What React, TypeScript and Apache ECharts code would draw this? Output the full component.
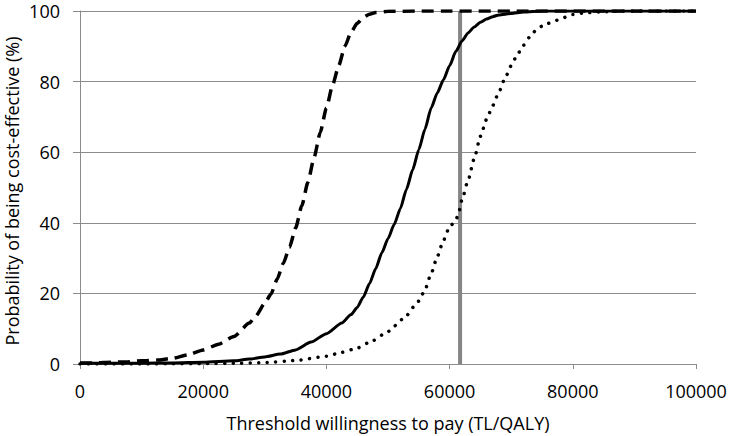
import React, { useEffect, useRef } from "react";
import * as echarts from "echarts";

const xTicks = [0, 20000, 40000, 60000, 80000, 100000];
const yTicks = [0, 20, 40, 60, 80, 100];
const thresholdWtp = 61700;

const dashedX = [0, 2500, 5000, 7500, 10000, 12500, 15000, 17500, 20000, 22500, 25000, 27500, 28500, 30000, 31000, 32000, 33000, 34000, 35000, 36000, 37000, 38000, 39000, 40000, 41000, 42000, 43000, 44000, 45000, 46000, 47000, 48000, 50000, 55000, 60000, 70000, 80000, 90000, 100000];
const dashedY = [0.3, 0.3, 0.5, 0.6, 0.9, 1.1, 1.6, 2.6, 4.0, 5.6, 7.8, 11.6, 13.5, 17.2, 19.8, 24.0, 28.5, 33.0, 38.5, 44.8, 51.5, 58.5, 65.6, 72.5, 79.0, 84.5, 90.0, 94.0, 96.5, 98.2, 99.1, 99.6, 99.9, 100, 100, 100, 100, 100, 100];

const solidX = [0, 5000, 10000, 15000, 20000, 25000, 27500, 30000, 32500, 35000, 37500, 40000, 42500, 44000, 45000, 46000, 47000, 48000, 49000, 50000, 51000, 52000, 53000, 54000, 55000, 56000, 57000, 58000, 59000, 60000, 61000, 62000, 63000, 64000, 65000, 66000, 67000, 68000, 70000, 72000, 75000, 80000, 90000, 100000];
const solidY = [0.2, 0.2, 0.2, 0.3, 0.5, 0.9, 1.4, 2.0, 2.8, 4.0, 6.2, 8.6, 11.6, 14.0, 16.0, 19.0, 22.8, 27.0, 31.5, 35.5, 39.5, 44.0, 49.5, 55.0, 60.7, 66.5, 72.5, 76.8, 80.5, 84.5, 88.5, 91.5, 93.8, 95.5, 96.8, 97.7, 98.4, 98.9, 99.3, 99.7, 100, 100, 100, 100];

const dottedX = [0, 10000, 15000, 20000, 25000, 30000, 35000, 40000, 42500, 45000, 47500, 50000, 52500, 55000, 56000, 57000, 58000, 59000, 60000, 61000, 61500, 62000, 63000, 64000, 65000, 66000, 67000, 68000, 69000, 70000, 71000, 72000, 73000, 74000, 75000, 76000, 77000, 78000, 80000, 82000, 85000, 88000, 90000, 100000];
const dottedY = [0, 0, 0.05, 0.1, 0.2, 0.4, 1.0, 2.2, 3.3, 4.5, 6.6, 9.2, 12.8, 17.8, 21.0, 25.6, 30.4, 35.0, 38.9, 40.6, 43.0, 46.5, 52.0, 58.2, 64.5, 69.3, 73.2, 77.0, 81.0, 84.5, 87.7, 90.3, 92.6, 94.5, 95.7, 96.5, 97.1, 97.8, 99.0, 99.5, 99.8, 100, 100, 100];

const zip = (xs: number[], ys: number[]) => xs.map((x, i) => [x, ys[i]]);

const FONT = "Open Sans";

export default function App() {
  const ref = useRef<HTMLDivElement>(null);
  useEffect(() => {
    if (!ref.current) return;
    const chart = echarts.init(ref.current, null, { renderer: "svg" });
    const common = {
      type: "line",
      showSymbol: false,
      symbol: "none",
      smooth: 0.2,
      smoothMonotone: "x",
      silent: true,
    };
    chart.setOption({
      animation: false,
      backgroundColor: "#ffffff",
      grid: { left: 80, right: 34, top: 11, bottom: 72, containLabel: false },
      xAxis: {
        type: "value",
        min: xTicks[0],
        max: xTicks[xTicks.length - 1],
        interval: xTicks[1] - xTicks[0],
        axisLine: { show: true, lineStyle: { color: "#8c8c8c", width: 1 } },
        axisTick: { show: true, length: 5, inside: false, lineStyle: { color: "#8c8c8c" } },
        axisLabel: { color: "#000", fontFamily: FONT, fontSize: 18, lineHeight: 18, margin: 18, formatter: (v: number) => String(v) },
        splitLine: { show: false },
      },
      yAxis: {
        type: "value",
        min: yTicks[0],
        max: yTicks[yTicks.length - 1],
        interval: yTicks[1] - yTicks[0],
        axisLine: { show: true, lineStyle: { color: "#8c8c8c", width: 1 } },
        axisTick: { show: true, length: 7, inside: false, lineStyle: { color: "#8c8c8c" } },
        axisLabel: { color: "#000", fontFamily: FONT, fontSize: 18, lineHeight: 18, margin: 20 },
        splitLine: { show: true, lineStyle: { color: "#8c8c8c", width: 1 } },
      },
      graphic: [
        {
          type: "text",
          x: 388,
          y: 423,
          style: {
            text: "Threshold willingness to pay (TL/QALY)",
            fontFamily: FONT,
            fontSize: 18,
            fill: "#000",
            align: "center",
            verticalAlign: "middle",
          },
        },
        {
          type: "text",
          x: 12,
          y: 191,
          rotation: Math.PI / 2,
          style: {
            text: "Probability of being cost-effective (%)",
            fontFamily: FONT,
            fontSize: 18,
            fill: "#000",
            align: "center",
            verticalAlign: "middle",
          },
        },
      ],
      series: [
        {
          type: "line",
          name: "threshold",
          data: [[thresholdWtp, 0], [thresholdWtp, 100]],
          showSymbol: false,
          symbol: "none",
          silent: true,
          z: 1,
          lineStyle: { color: "#858585", width: 4 },
        },
        {
          ...common,
          name: "dashed",
          z: 3,
          data: zip(dashedX, dashedY),
          lineStyle: { color: "#000", width: 3.5, type: [12, 7] },
        },
        {
          ...common,
          name: "solid",
          z: 3,
          data: zip(solidX, solidY),
          lineStyle: { color: "#000", width: 3 },
        },
        {
          ...common,
          name: "dotted",
          z: 3,
          data: zip(dottedX, dottedY),
          lineStyle: { color: "#000", width: 3.5, type: [0.01, 8.5], cap: "round" },
        },
      ],
    });
    return () => chart.dispose();
  }, []);
  return <div ref={ref} style={{ position: "fixed", left: 0, top: 0, width: 730, height: 436 }} />;
}
